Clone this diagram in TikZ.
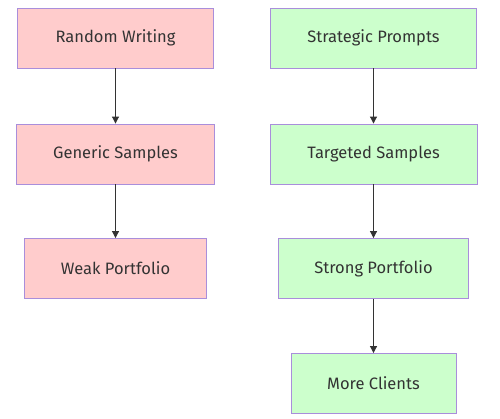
\documentclass[tikz,border=0pt]{standalone}
\usepackage{fontspec}
\setmainfont{Fira Sans}
\usepackage{tikz}
\usetikzlibrary{arrows.meta}
\definecolor{badfill}{HTML}{FFCCCC}
\definecolor{goodfill}{HTML}{CCFFCC}
\definecolor{edge}{HTML}{A98EDB}
\definecolor{ink}{HTML}{333333}
\newcommand{\stepnode}[6]{\node[box, fill=#1, minimum width=#2] (#3) at (#4, #5) {#6};}

\begin{document}
\begin{tikzpicture}[x=1pt, y=-1pt,
    box/.style={draw=edge, line width=0.9pt, text=ink, minimum height=60pt, inner sep=0pt, font=\fontsize{16.5}{18}\selectfont},
    link/.style={draw=ink, line width=1pt, -{Triangle[length=7pt, width=7pt]}}]
        \useasboundingbox (0,0) rectangle (500,419);
        % left column
        \stepnode{badfill}{196pt}{random}{115.5}{38}{Random Writing}
        \stepnode{badfill}{198pt}{generic}{115.5}{154}{Generic Samples}
        \stepnode{badfill}{182pt}{weak}{115.5}{268.5}{Weak Portfolio}
        % right column
        \stepnode{goodfill}{206pt}{strategic}{373.5}{38}{Strategic Prompts}
        \stepnode{goodfill}{207pt}{targeted}{373.5}{154}{Targeted Samples}
        \stepnode{goodfill}{190pt}{strong}{373.5}{268.5}{Strong Portfolio}
        \stepnode{goodfill}{165pt}{clients}{373.5}{383.5}{More Clients}
        % arrows
        \draw[link] (random) -- (generic);
        \draw[link] (generic) -- (weak);
        \draw[link] (strategic) -- (targeted);
        \draw[link] (targeted) -- (strong);
        \draw[link] (strong) -- (clients);
    \end{tikzpicture}
\end{document}
